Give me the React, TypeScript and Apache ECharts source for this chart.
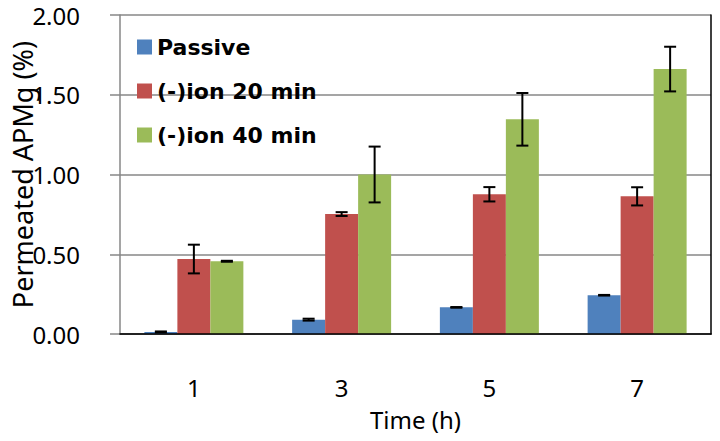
import React, { useEffect, useRef } from "react";
import * as echarts from "echarts";

const categories = ["1", "3", "5", "7"];
const seriesNames = ["Passive", "(-)ion 20 min", "(-)ion 40 min"];
const seriesColors = ["#4F81BD", "#C0504D", "#9BBB59"];
const passive = [0.013, 0.09, 0.167, 0.243];
const passiveErr = [0.003, 0.006, 0.002, 0.002];
const ion20 = [0.47, 0.752, 0.876, 0.863];
const ion20Err = [0.09, 0.012, 0.045, 0.057];
const ion40 = [0.456, 1.0, 1.346, 1.661];
const ion40Err = [0.003, 0.175, 0.165, 0.14];
const yMin = 0;
const yMax = 2;
const yStep = 0.5;

const values = [passive, ion20, ion40];
const errors = [passiveErr, ion20Err, ion40Err];
const GAP = 0.33;

export default function App() {
  const ref = useRef<HTMLDivElement>(null);
  useEffect(() => {
    if (!ref.current) return;
    const chart = echarts.init(ref.current, undefined, { renderer: "svg" });
    const gray = "#878787";
    const barSeries = values.map((vals, s) => ({
      name: seriesNames[s],
      type: "bar",
      data: vals,
      barGap: "0%",
      barCategoryGap: GAP * 100 + "%",
      itemStyle: { color: seriesColors[s] },
      z: 2,
    }));
    const errSeries = values.map((vals, s) => ({
      name: seriesNames[s] + " err",
      type: "custom",
      z: 5,
      data: vals.map((v, i) => [i, v, errors[s][i]]),
      renderItem: (params: any, api: any) => {
        const idx = api.value(0);
        const val = api.value(1);
        const err = api.value(2);
        const band = api.size([1, 0])[0];
        const bw = (band * (1 - GAP)) / 3;
        const cx = api.coord([idx, val])[0] + (s - 1) * bw;
        const yTop = api.coord([idx, val + err])[1];
        const yBot = api.coord([idx, val - err])[1];
        const cap = 6;
        const st = { stroke: "#000", lineWidth: 2 };
        return {
          type: "group",
          children: [
            { type: "line", shape: { x1: cx, y1: yTop, x2: cx, y2: yBot }, style: st },
            { type: "line", shape: { x1: cx - cap, y1: yTop, x2: cx + cap, y2: yTop }, style: st },
            { type: "line", shape: { x1: cx - cap, y1: yBot, x2: cx + cap, y2: yBot }, style: st },
          ],
        };
      },
    }));
    chart.setOption({
      animation: false,
      textStyle: { fontFamily: "Noto Sans" },
      grid: { left: 120, right: 9, top: 15, bottom: 107, containLabel: false, outerBoundsMode: "none" },
      legend: {
        data: seriesNames,
        orient: "vertical",
        left: 132,
        top: 22,
        itemWidth: 15,
        itemHeight: 15,
        itemGap: 4,
        itemTextGap: 10,
        icon: "rect",
        selectedMode: false,
        textStyle: {
          fontFamily: "DejaVu Sans",
          fontWeight: "bold",
          fontSize: 22,
          color: "#000",
          lineHeight: 28,
          padding: [12, 0, 0, 0],
        },
      },
      xAxis: [
        {
          type: "category",
          data: categories,
          axisLine: { lineStyle: { color: gray, width: 1.5 } },
          axisTick: { show: false },
          axisLabel: { margin: 41, fontSize: 24, color: "#000", fontFamily: "Noto Sans" },
          name: "Time (h)",
          nameLocation: "middle",
          nameGap: 73,
          nameMoveOverlap: false,
          nameTextStyle: { fontSize: 24, color: "#000", fontFamily: "Noto Sans" },
        },
        {
          type: "category",
          data: categories,
          position: "top",
          z: 6,
          axisLine: { show: true, lineStyle: { color: "#000", width: 1.5 } },
          axisTick: { show: false },
          axisLabel: { show: false },
          splitLine: { show: false },
        },
      ],
      yAxis: [
        {
          type: "value",
          min: yMin,
          max: yMax,
          interval: yStep,
          axisLine: { show: true, lineStyle: { color: gray, width: 1.5 } },
          axisTick: { show: true, length: 10, lineStyle: { color: gray, width: 1.5 } },
          splitLine: { show: true, lineStyle: { color: gray, width: 1.5 } },
          axisLabel: {
            margin: 40,
            fontSize: 24,
            color: "#000",
            fontFamily: "Noto Sans",
            formatter: (v: number) => v.toFixed(2),
          },
          name: "Permeated APMg (%)",
          nameLocation: "middle",
          nameRotate: 90,
          nameGap: 84,
          nameMoveOverlap: false,
          nameTextStyle: { fontSize: 27, color: "#000", fontFamily: "Noto Sans" },
        },
        {
          type: "value",
          min: yMin,
          max: yMax,
          interval: yStep,
          position: "right",
          z: 6,
          axisLine: { show: true, lineStyle: { color: "#000", width: 1.5 } },
          axisTick: { show: false },
          axisLabel: { show: false },
          splitLine: { show: false },
        },
      ],
      series: [...barSeries, ...errSeries],
    });
    return () => chart.dispose();
  }, []);
  return (
    <div
      ref={ref}
      style={{ position: "fixed", left: 0, top: 0, width: 720, height: 441, background: "#fff" }}
    />
  );
}
